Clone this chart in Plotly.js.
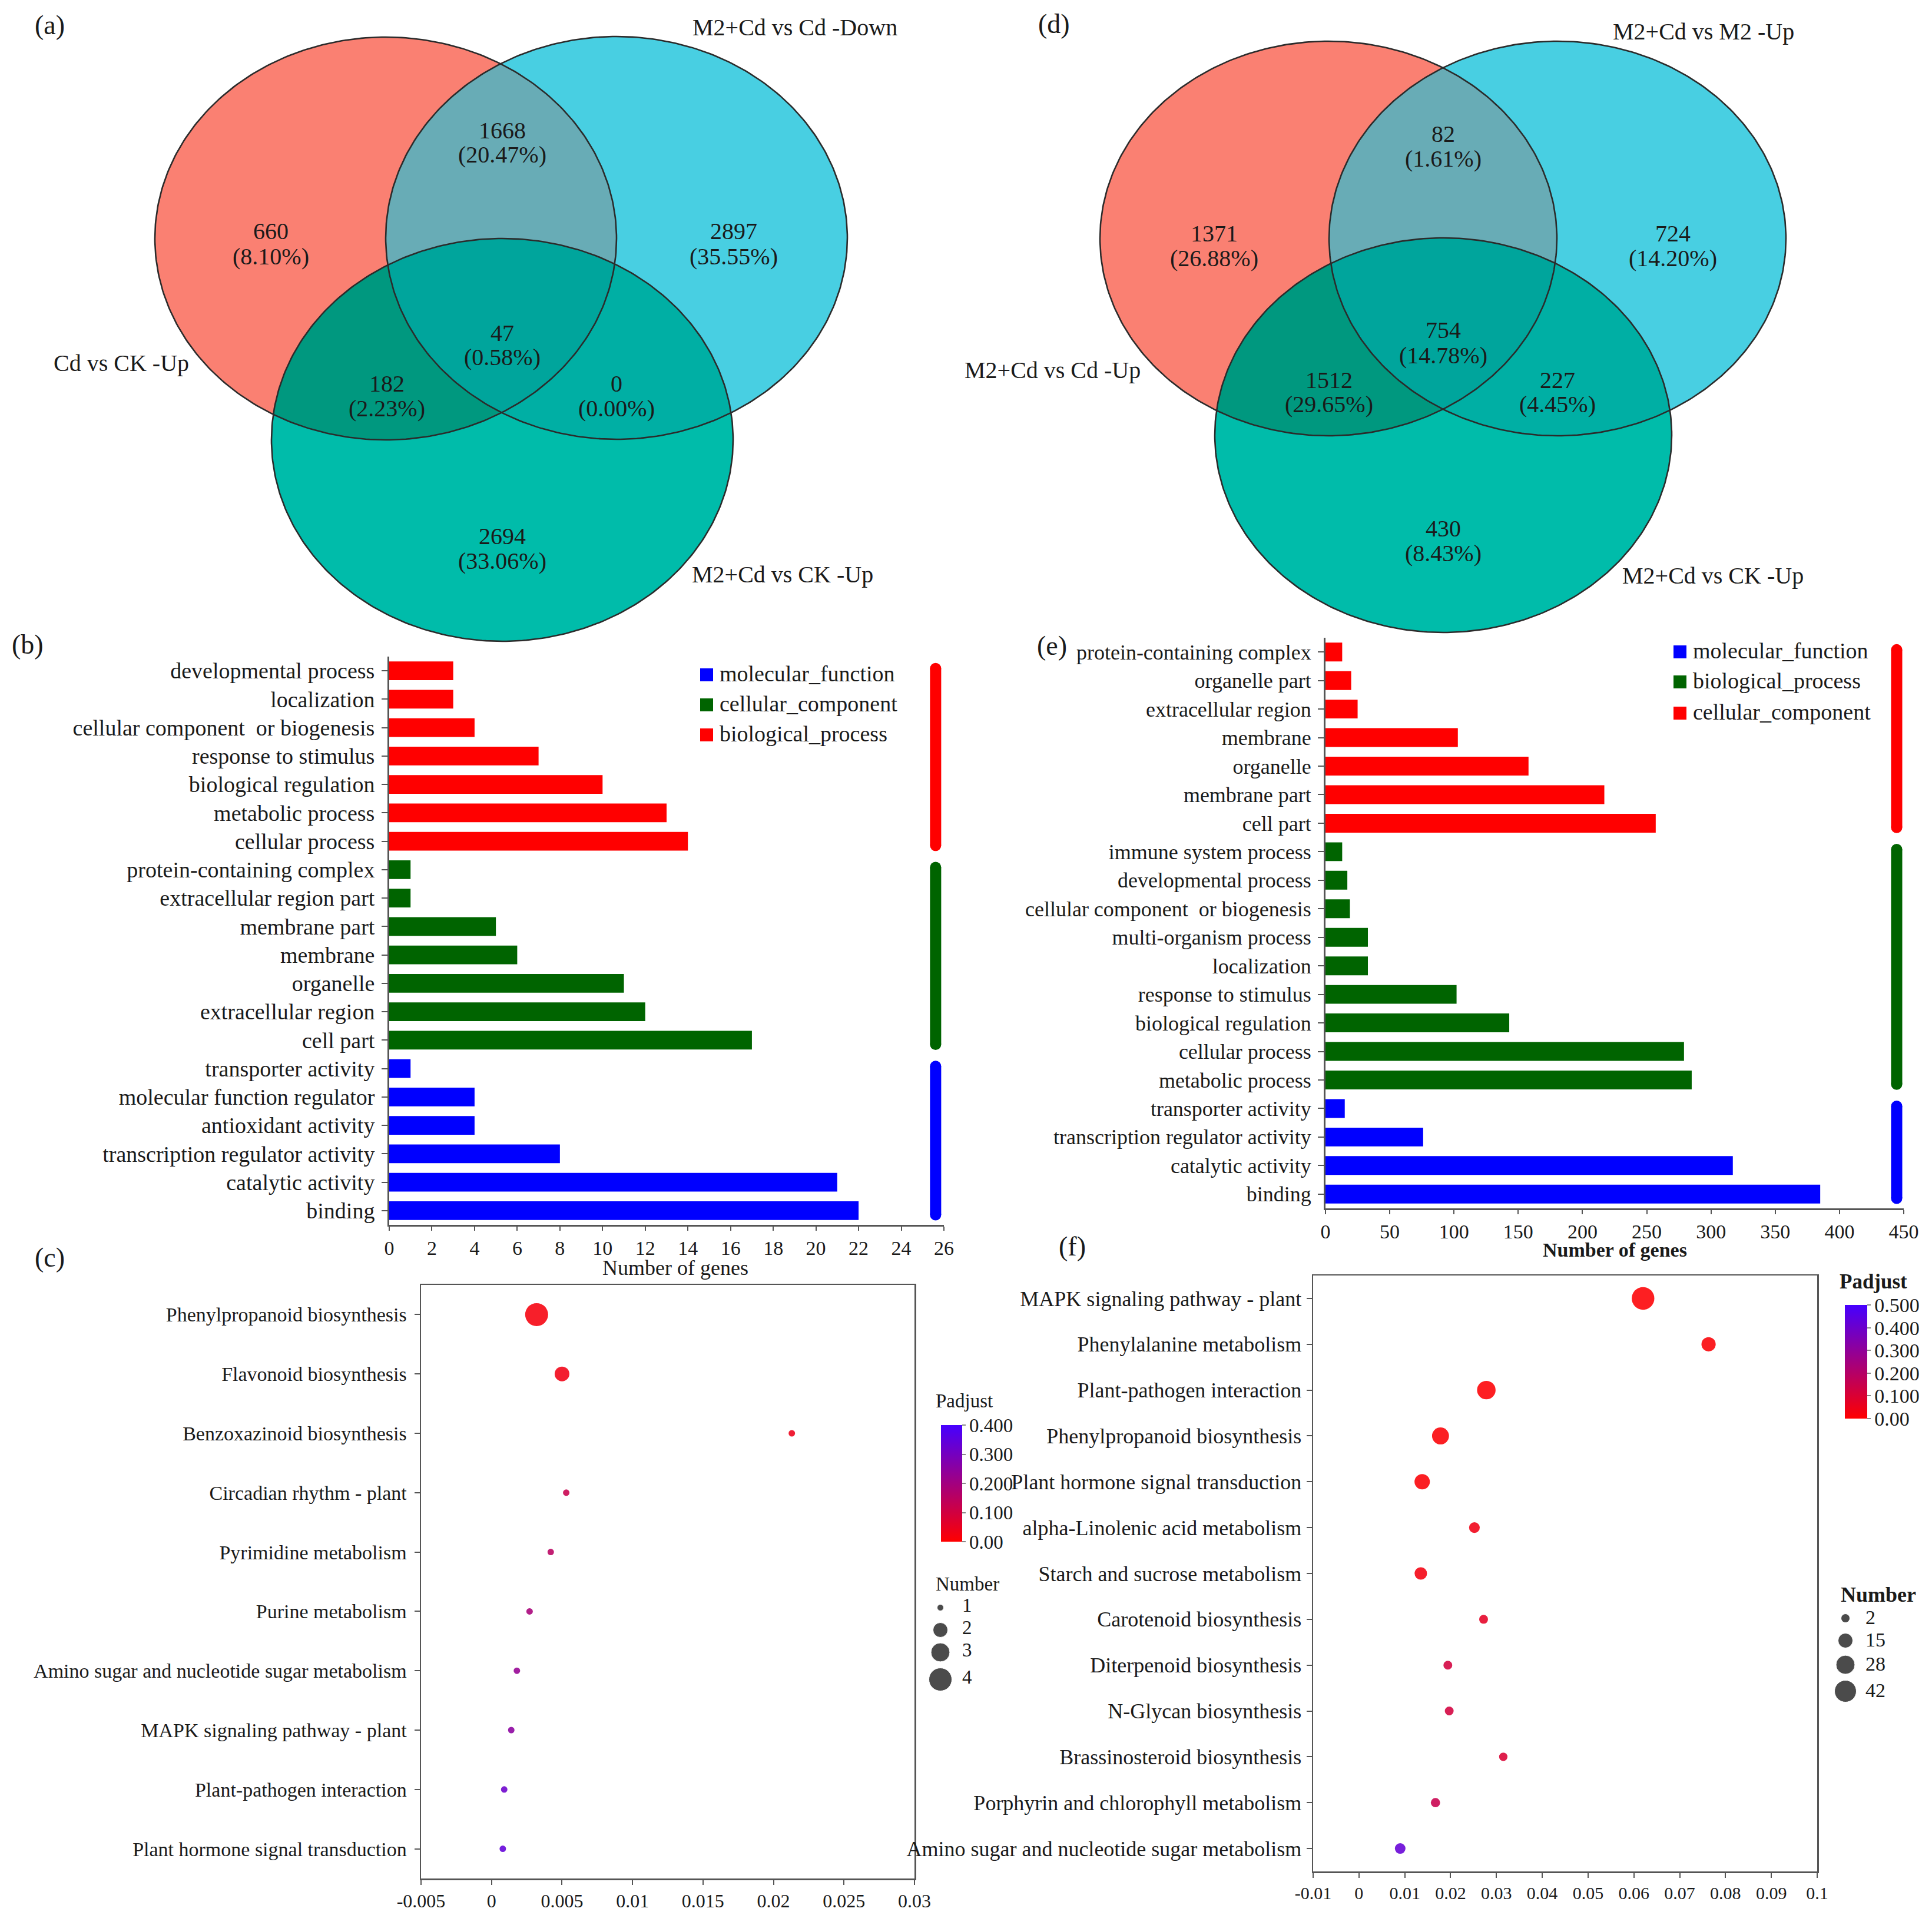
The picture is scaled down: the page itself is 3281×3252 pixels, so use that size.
<!DOCTYPE html>
<html>
<head>
<meta charset="utf-8">
<script src="https://cdn.plot.ly/plotly-3.0.1.min.js"></script>
<style>html,body{margin:0;padding:0;background:#fff;}#chart{width:3281px;height:3252px;}</style>
</head>
<body>
<div id="chart"></div>
<script>
// ---------------- DATA ----------------
// Venn (a): regions order = A-only, B-only, C-only, A∩B, A∩C, B∩C, A∩B∩C
const vennA_sets = ['Cd vs CK -Up', 'M2+Cd vs Cd -Down', 'M2+Cd vs CK -Up'];
const vennA_counts = [660, 2897, 2694, 1668, 182, 0, 47];
const vennA_pct = ['(8.10%)', '(35.55%)', '(33.06%)', '(20.47%)', '(2.23%)', '(0.00%)', '(0.58%)'];
// Venn (d)
const vennD_sets = ['M2+Cd vs Cd -Up', 'M2+Cd vs M2 -Up', 'M2+Cd vs CK -Up'];
const vennD_counts = [1371, 724, 430, 82, 1512, 227, 754];
const vennD_pct = ['(26.88%)', '(14.20%)', '(8.43%)', '(1.61%)', '(29.65%)', '(4.45%)', '(14.78%)'];

// Panel (b) GO bars (top to bottom)
const bTerms = ['developmental process', 'localization', 'cellular component  or biogenesis', 'response to stimulus',
  'biological regulation', 'metabolic process', 'cellular process',
  'protein-containing complex', 'extracellular region part', 'membrane part', 'membrane', 'organelle',
  'extracellular region', 'cell part',
  'transporter activity', 'molecular function regulator', 'antioxidant activity', 'transcription regulator activity',
  'catalytic activity', 'binding'];
const bGenes = [3, 3, 4, 7, 10, 13, 14, 1, 1, 5, 6, 11, 12, 17, 1, 4, 4, 8, 21, 22];
const bClass = ['biological_process', 'biological_process', 'biological_process', 'biological_process', 'biological_process', 'biological_process', 'biological_process',
  'cellular_component', 'cellular_component', 'cellular_component', 'cellular_component', 'cellular_component', 'cellular_component', 'cellular_component',
  'molecular_function', 'molecular_function', 'molecular_function', 'molecular_function', 'molecular_function', 'molecular_function'];
const bLegend = ['molecular_function', 'cellular_component', 'biological_process'];
const bXTicks = [0, 2, 4, 6, 8, 10, 12, 14, 16, 18, 20, 22, 24, 26];

// Panel (e) GO bars (top to bottom)
const eTerms = ['protein-containing complex', 'organelle part', 'extracellular region', 'membrane', 'organelle', 'membrane part', 'cell part',
  'immune system process', 'developmental process', 'cellular component  or biogenesis', 'multi-organism process', 'localization',
  'response to stimulus', 'biological regulation', 'cellular process', 'metabolic process',
  'transporter activity', 'transcription regulator activity', 'catalytic activity', 'binding'];
const eGenes = [13, 20, 25, 103, 158, 217, 257, 13, 17, 19, 33, 33, 102, 143, 279, 285, 15, 76, 317, 385];
const eClass = ['cellular_component', 'cellular_component', 'cellular_component', 'cellular_component', 'cellular_component', 'cellular_component', 'cellular_component',
  'biological_process', 'biological_process', 'biological_process', 'biological_process', 'biological_process', 'biological_process', 'biological_process', 'biological_process', 'biological_process',
  'molecular_function', 'molecular_function', 'molecular_function', 'molecular_function'];
const eLegend = ['molecular_function', 'biological_process', 'cellular_component'];
const eXTicks = [0, 50, 100, 150, 200, 250, 300, 350, 400, 450];

// Panel (c) KEGG bubbles
const cPathways = ['Phenylpropanoid biosynthesis', 'Flavonoid biosynthesis', 'Benzoxazinoid biosynthesis', 'Circadian rhythm - plant',
  'Pyrimidine metabolism', 'Purine metabolism', 'Amino sugar and nucleotide sugar metabolism', 'MAPK signaling pathway - plant',
  'Plant-pathogen interaction', 'Plant hormone signal transduction'];
const cRatio = [0.0032, 0.0050, 0.0213, 0.0053, 0.0042, 0.0027, 0.0018, 0.0014, 0.0009, 0.0008];
const cNumber = [4, 2, 1, 1, 1, 1, 1, 1, 1, 1];
const cPadj = [0.02, 0.03, 0.04, 0.12, 0.15, 0.19, 0.23, 0.25, 0.32, 0.34];
const cXTickVals = [-0.005, 0, 0.005, 0.01, 0.015, 0.02, 0.025, 0.03];
const cXTickText = ['-0.005', '0', '0.005', '0.01', '0.015', '0.02', '0.025', '0.03'];
const cBarVals = [0, 0.1, 0.2, 0.3, 0.4];
const cBarText = ['0.00', '0.100', '0.200', '0.300', '0.400'];
const cSizeLegend = [1, 2, 3, 4];

// Panel (f) KEGG bubbles
const fPathways = ['MAPK signaling pathway - plant', 'Phenylalanine metabolism', 'Plant-pathogen interaction', 'Phenylpropanoid biosynthesis',
  'Plant hormone signal transduction', 'alpha-Linolenic acid metabolism', 'Starch and sucrose metabolism', 'Carotenoid biosynthesis',
  'Diterpenoid biosynthesis', 'N-Glycan biosynthesis', 'Brassinosteroid biosynthesis', 'Porphyrin and chlorophyll metabolism',
  'Amino sugar and nucleotide sugar metabolism'];
const fRatio = [0.0620, 0.0763, 0.0278, 0.0178, 0.0138, 0.0252, 0.0135, 0.0272, 0.0194, 0.0197, 0.0315, 0.0167, 0.0090];
const fNumber = [46, 14, 27, 22, 17, 6, 10, 2, 2, 2, 1, 3, 6];
const fPadj = [0.005, 0.01, 0.005, 0.01, 0.01, 0.04, 0.03, 0.07, 0.12, 0.12, 0.10, 0.15, 0.42];
const fXTickVals = [-0.01, 0, 0.01, 0.02, 0.03, 0.04, 0.05, 0.06, 0.07, 0.08, 0.09, 0.1];
const fXTickText = ['-0.01', '0', '0.01', '0.02', '0.03', '0.04', '0.05', '0.06', '0.07', '0.08', '0.09', '0.1'];
const fBarVals = [0, 0.1, 0.2, 0.3, 0.4, 0.5];
const fBarText = ['0.00', '0.100', '0.200', '0.300', '0.400', '0.500'];
const fSizeLegend = [2, 15, 28, 42];

// ---------------- STYLE / LAYOUT ----------------
const FW = 3281, FH = 3252;
const FONT = 'Liberation Serif, Times New Roman, serif';
const TXT = '#1a1a1a';
const AX = '#555555';
const px = x => x / FW;
const py = y => 1 - y / FH;

const bColors = {molecular_function: '#0000ff', cellular_component: '#006400', biological_process: '#ff0000'};
const eColors = {molecular_function: '#0000ff', biological_process: '#006400', cellular_component: '#ff0000'};
const vennFill = {A: '#FA8072', B: '#48CFE2', C: '#00BCAA', AB: '#68ACB6', AC: '#00987F', BC: '#00AFA4', ABC: '#00A59C'};
const padjScale = [[0, 'rgb(255,0,0)'], [1, 'rgb(70,0,255)']];

function interp(v, xs, ys) {
  let i = 0;
  while (i < xs.length - 2 && v > xs[i + 1]) i++;
  const t = (v - xs[i]) / (xs[i + 1] - xs[i]);
  return ys[i] + t * (ys[i + 1] - ys[i]);
}
const cSize = n => interp(n, [1, 2, 3, 4], [11, 25, 32, 39]);
const fSize = n => interp(n, [2, 15, 28, 42], [15, 25, 32, 37]);

const traces = [];
const annotations = [];
function ann(text, x, y, size, opts) {
  return Object.assign({text: text, x: px(x), y: py(y), xref: 'paper', yref: 'paper', showarrow: false,
    font: {family: FONT, size: size, color: TXT}, xanchor: 'center', yanchor: 'middle'}, opts || {});
}

// ---------- Venn geometry (pixel axis x/y) ----------
function ellipse(cx, cy, rx, ry, n) {
  const pts = [];
  for (let i = 0; i < n; i++) {
    const t = 2 * Math.PI * i / n;
    pts.push([cx + rx * Math.cos(t), cy + ry * Math.sin(t)]);
  }
  return pts;
}
function clipPoly(subj, clip) {
  let out = subj.slice();
  const n = clip.length;
  let area = 0;
  for (let i = 0; i < n; i++) { const a = clip[i], b = clip[(i + 1) % n]; area += a[0] * b[1] - b[0] * a[1]; }
  const s = Math.sign(area);
  for (let i = 0; i < n; i++) {
    const A = clip[i], B = clip[(i + 1) % n];
    const inp = out; out = [];
    if (!inp.length) break;
    const side = p => s * ((B[0] - A[0]) * (p[1] - A[1]) - (B[1] - A[1]) * (p[0] - A[0]));
    for (let j = 0; j < inp.length; j++) {
      const P = inp[j], Q = inp[(j + 1) % inp.length];
      const sp = side(P), sq = side(Q);
      if (sp >= 0) out.push(P);
      if ((sp >= 0) !== (sq >= 0)) {
        const t = sp / (sp - sq);
        out.push([P[0] + t * (Q[0] - P[0]), P[1] + t * (Q[1] - P[1])]);
      }
    }
  }
  return out;
}
function polyTrace(pts, fill) {
  const xs = pts.map(p => p[0]), ys = pts.map(p => p[1]);
  xs.push(xs[0]); ys.push(ys[0]);
  const t = {type: 'scatter', x: xs, y: ys, xaxis: 'x', yaxis: 'y', mode: 'lines', hoverinfo: 'skip', showlegend: false};
  if (fill) { t.fill = 'toself'; t.fillcolor = fill; t.line = {width: 0, color: fill}; }
  else { t.line = {width: 2.6, color: '#2b2b2b'}; }
  return t;
}
function drawVenn(geo, sets, counts, pcts, labelPos, setPos) {
  const A = ellipse(geo.A[0], geo.A[1], geo.rx, geo.ry, 360);
  const B = ellipse(geo.B[0], geo.B[1], geo.rx, geo.ry, 360);
  const C = ellipse(geo.C[0], geo.C[1], geo.rx, geo.ry, 360);
  const AB = clipPoly(A, B), AC = clipPoly(A, C), BC = clipPoly(B, C), ABC = clipPoly(AB, C);
  traces.push(polyTrace(A, vennFill.A), polyTrace(B, vennFill.B), polyTrace(C, vennFill.C),
    polyTrace(AB, vennFill.AB), polyTrace(AC, vennFill.AC), polyTrace(BC, vennFill.BC), polyTrace(ABC, vennFill.ABC),
    polyTrace(A), polyTrace(B), polyTrace(C));
  counts.forEach((c, i) => {
    annotations.push(ann(String(c), labelPos[i][0], labelPos[i][1], 40));
    annotations.push(ann(pcts[i], labelPos[i][0], labelPos[i][1] + 42, 40));
  });
  sets.forEach((s, i) => annotations.push(ann(s, setPos[i][0], setPos[i][1], 40)));
}
drawVenn({A: [655, 405], B: [1047, 404], C: [853, 747], rx: 392, ry: 342},
  vennA_sets, vennA_counts, vennA_pct,
  [[460, 393], [1246, 393], [853, 910], [853, 221], [657, 651], [1047, 651], [853, 565]],
  [[206, 616], [1350, 47], [1329, 975]]);
drawVenn({A: [2256, 405], B: [2645, 405], C: [2451, 739], rx: 388, ry: 335},
  vennD_sets, vennD_counts, vennD_pct,
  [[2062, 396], [2841, 396], [2451, 897], [2451, 228], [2257, 645], [2645, 645], [2451, 561]],
  [[1788, 628], [2893, 54], [2909, 977]]);

// ---------- GO bar panels ----------
function barPanel(terms, genes, cls, colors, xa, ya, sideX, legendOrder, legX, legY) {
  const idx = terms.map((_, i) => i);
  traces.push({type: 'bar', orientation: 'h', x: genes, y: idx, xaxis: xa, yaxis: ya,
    marker: {color: cls.map(c => colors[c]), line: {width: 0}}, width: 0.66, hoverinfo: 'x+y', showlegend: false});
  Object.keys(colors).forEach(k => {
    const ids = idx.filter(i => cls[i] === k);
    if (!ids.length) return;
    const y0 = Math.min(...ids) - 0.08, y1 = Math.max(...ids) + 0.15;
    traces.push({type: 'scatter', mode: 'lines+markers', x: [sideX, sideX], y: [y0, y1], xaxis: xa, yaxis: ya,
      line: {color: colors[k], width: 19}, marker: {color: colors[k], size: 19, symbol: 'circle'},
      hoverinfo: 'skip', showlegend: false, cliponaxis: false});
  });
  traces.push({type: 'scatter', mode: 'markers', x: legendOrder.map(() => legX), y: legY, xaxis: 'x', yaxis: 'y',
    marker: {symbol: 'square', size: 22, color: legendOrder.map(k => colors[k])}, hoverinfo: 'skip', showlegend: false});
  legendOrder.forEach((k, i) => annotations.push(ann(k, legX + 20, legY[i] - 2, 38, {xanchor: 'left'})));
}
barPanel(bTerms, bGenes, bClass, bColors, 'x2', 'y2', 25.61, bLegend, 1200, [1146, 1197, 1248]);
barPanel(eTerms, eGenes, eClass, eColors, 'x3', 'y3', 444.5, eLegend, 2853, [1107, 1158, 1211]);

// ---------- KEGG bubble panels ----------
traces.push({type: 'scatter', mode: 'markers', x: cRatio, y: cPathways.map((_, i) => i), xaxis: 'x4', yaxis: 'y4',
  text: cPathways, hoverinfo: 'text+x',
  marker: {size: cNumber.map(cSize), color: cPadj, colorscale: padjScale, cmin: 0, cmax: 0.4, opacity: 0.88, line: {width: 0},
    showscale: true,
    colorbar: {x: px(1598), xanchor: 'left', xpad: 0, y: py(2420), yanchor: 'top', ypad: 0,
      len: 198, lenmode: 'pixels', thickness: 36, thicknessmode: 'pixels', outlinewidth: 0,
      tickmode: 'array', tickvals: cBarVals, ticktext: cBarText, ticks: 'outside', ticklen: 6, tickwidth: 2, tickcolor: '#888',
      tickfont: {family: FONT, size: 33, color: TXT}, title: {text: ''}}},
  showlegend: false});
traces.push({type: 'scatter', mode: 'markers', x: fRatio, y: fPathways.map((_, i) => i), xaxis: 'x5', yaxis: 'y5',
  text: fPathways, hoverinfo: 'text+x',
  marker: {size: fNumber.map(fSize), color: fPadj, colorscale: padjScale, cmin: 0, cmax: 0.5, opacity: 0.88, line: {width: 0},
    showscale: true,
    colorbar: {x: px(3133), xanchor: 'left', xpad: 0, y: py(2216), yanchor: 'top', ypad: 0,
      len: 193, lenmode: 'pixels', thickness: 38, thicknessmode: 'pixels', outlinewidth: 0,
      tickmode: 'array', tickvals: fBarVals, ticktext: fBarText, ticks: 'outside', ticklen: 6, tickwidth: 2, tickcolor: '#888',
      tickfont: {family: FONT, size: 34, color: TXT}, title: {text: ''}}},
  showlegend: false});

// size legends (pixel axis)
const cLegY = [2730, 2768, 2806, 2852];
traces.push({type: 'scatter', mode: 'markers', x: cSizeLegend.map(() => 1597), y: cLegY, xaxis: 'x', yaxis: 'y',
  marker: {size: cSizeLegend.map(cSize), color: '#000'}, hoverinfo: 'skip', showlegend: false});
cSizeLegend.forEach((v, i) => annotations.push(ann(String(v), 1632, cLegY[i] - 4, 33, {xanchor: 'left'})));
annotations.push(ann('Number', 1587, 2690, 33, {xanchor: 'left'}));
annotations.push(ann('Padjust', 1587, 2379, 33, {xanchor: 'left'}));

const fLegY = [2748, 2786, 2827, 2872];
traces.push({type: 'scatter', mode: 'markers', x: fSizeLegend.map(() => 3134), y: fLegY, xaxis: 'x', yaxis: 'y',
  marker: {size: fSizeLegend.map(fSize), color: '#000'}, hoverinfo: 'skip', showlegend: false});
fSizeLegend.forEach((v, i) => annotations.push(ann(String(v), 3166, fLegY[i] - 2, 34, {xanchor: 'left'})));
annotations.push(ann('<b>Number</b>', 3124, 2708, 36, {xanchor: 'left'}));
annotations.push(ann('<b>Padjust</b>', 3122, 2176, 35, {xanchor: 'left'}));

// axis titles
annotations.push(ann('Number of genes', 1147, 2153, 36));
annotations.push(ann('<b>Number of genes</b>', 2742, 2122, 34));

// panel labels
[['(a)', 84, 42], ['(b)', 47, 1094], ['(c)', 84, 2135], ['(d)', 1790, 40], ['(e)', 1786, 1096], ['(f)', 1821, 2116]]
  .forEach(p => annotations.push(ann(p[0], p[1], p[2], 46)));

// ---------- axes ----------
const tickFont = s => ({family: FONT, size: s, color: TXT});
function barX(dom, range, ticks) {
  return {domain: dom, range: range, tickmode: 'array', tickvals: ticks, ticktext: ticks.map(String),
    showline: true, linecolor: AX, linewidth: 3, ticks: 'outside', ticklen: 7, tickwidth: 2, tickcolor: AX,
    tickfont: tickFont(34), showgrid: false, zeroline: false, fixedrange: true};
}
function barY(dom, terms, fs) {
  return {domain: dom, range: [terms.length - 0.5, -0.5], tickmode: 'array', tickvals: terms.map((_, i) => i), ticktext: terms,
    showline: true, linecolor: AX, linewidth: 3, ticks: 'outside', ticklen: 10, tickwidth: 2, tickcolor: AX,
    tickfont: tickFont(fs), ticklabelstandoff: 4, showgrid: false, zeroline: false, fixedrange: true};
}
function bubX(dom, range, vals, text, fs) {
  return {domain: dom, range: range, tickmode: 'array', tickvals: vals, ticktext: text,
    showline: true, mirror: true, linecolor: AX, linewidth: 2.5, ticks: 'outside', ticklen: 8, tickwidth: 2, tickcolor: AX,
    tickfont: tickFont(fs), showgrid: false, zeroline: false, fixedrange: true};
}
function bubY(dom, terms, fs, standoff) {
  return {domain: dom, range: [terms.length - 0.5, -0.5], tickmode: 'array', tickvals: terms.map((_, i) => i), ticktext: terms,
    showline: true, mirror: true, linecolor: AX, linewidth: 2.5, ticks: 'outside', ticklen: 9, tickwidth: 2, tickcolor: AX,
    tickfont: tickFont(fs), ticklabelstandoff: standoff, showgrid: false, zeroline: false, fixedrange: true};
}

const layout = {
  width: FW, height: FH, autosize: false,
  margin: {l: 0, r: 0, t: 0, b: 0, pad: 0},
  paper_bgcolor: '#ffffff', plot_bgcolor: 'rgba(0,0,0,0)',
  font: {family: FONT, color: TXT},
  showlegend: false,
  barmode: 'overlay',
  xaxis: {domain: [0, 1], range: [0, FW], visible: false, fixedrange: true},
  yaxis: {domain: [0, 1], range: [FH, 0], visible: false, fixedrange: true},
  xaxis2: Object.assign(barX([px(661), px(1603)], [0, 26], bXTicks), {anchor: 'y2'}),
  yaxis2: Object.assign(barY([py(2080), py(1115)], bTerms, 38), {anchor: 'x2'}),
  xaxis3: Object.assign(barX([px(2251), px(3233)], [0, 450], eXTicks), {anchor: 'y3'}),
  yaxis3: Object.assign(barY([py(2052), py(1083)], eTerms, 36), {anchor: 'x3'}),
  xaxis4: Object.assign(bubX([px(715), px(1553)], [-0.005, 0.03], cXTickVals, cXTickText, 32), {anchor: 'y4'}),
  yaxis4: Object.assign(bubY([py(3190), py(2182)], cPathways, 34, 6), {anchor: 'x4'}),
  xaxis5: Object.assign(bubX([px(2230), px(3086)], [-0.01, 0.1], fXTickVals, fXTickText, 30), {anchor: 'y5'}),
  yaxis5: Object.assign(bubY([py(3178), py(2166)], fPathways, 36, 1), {anchor: 'x5'}),
  annotations: annotations
};

Plotly.newPlot('chart', traces, layout, {staticPlot: true, displayModeBar: false});
</script>
</body>
</html>
